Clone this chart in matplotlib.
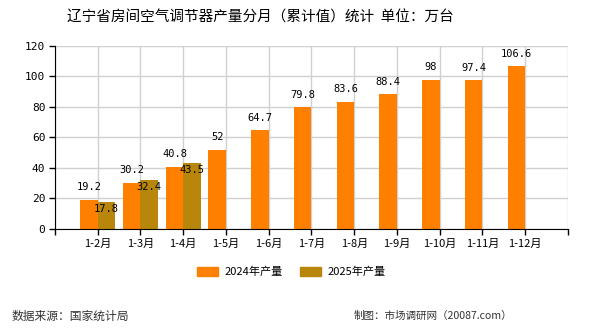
import matplotlib
matplotlib.use("Agg")
import matplotlib.pyplot as plt
from matplotlib.patches import Patch

plt.rcParams['font.family'] = ['Noto Sans CJK SC', 'DejaVu Sans']

months = ['1-2月', '1-3月', '1-4月', '1-5月', '1-6月', '1-7月',
          '1-8月', '1-9月', '1-10月', '1-11月', '1-12月']
prod_2024 = [19.2, 30.2, 40.8, 52, 64.7, 79.8, 83.6, 88.4, 98, 97.4, 106.6]
prod_2025 = [17.8, 32.4, 43.5]
labels_2024 = ['19.2', '30.2', '40.8', '52', '64.7', '79.8', '83.6', '88.4', '98', '97.4', '106.6']
labels_2025 = ['17.8', '32.4', '43.5']

c2024 = '#ff8000'
c2025 = '#b8860b'
w = 0.41

fig = plt.figure(figsize=(5.9, 3.3), dpi=100)
ax = fig.add_axes([0.0932, 0.3061, 0.8695, 0.5545])

x24 = [i + 1 - w / 2 for i in range(len(months))]
x25 = [i + 1 + w / 2 for i in range(len(prod_2025))]
ax.bar(x24, prod_2024, width=w, color=c2024, zorder=2)
ax.bar(x25, prod_2025, width=w, color=c2025, zorder=2)

mono = ['DejaVu Sans Mono', 'Noto Sans CJK SC']
for xx, v, t in zip(x24, prod_2024, labels_2024):
    ax.annotate(t, (xx, v), xytext=(0, 9), textcoords='offset points',
                ha='center', va='center', fontsize=7.5, family=mono, zorder=3)
for xx, v, t in zip(x25, prod_2025, labels_2025):
    ax.annotate(t, (xx, v), xytext=(0, -5), textcoords='offset points',
                ha='center', va='center', fontsize=7.5, family=mono, zorder=3)

ax.set_xlim(0, 12)
ax.set_ylim(0, 120)
ax.set_xticks(range(13))
ax.set_xticklabels([''] + months + [''], fontsize=8)
ax.set_yticks(range(0, 121, 20))
ax.set_yticklabels([str(v) for v in range(0, 121, 20)], fontsize=8, family=mono)
ax.tick_params(axis='both', length=4, width=1, color='black', pad=3)
ax.grid(True, color='#d0d0d0', linewidth=1, zorder=0)
ax.set_axisbelow(True)
ax.spines['top'].set_visible(False)
ax.spines['right'].set_visible(False)
ax.spines['left'].set_color('black')
ax.spines['bottom'].set_color('black')

fig.text(0.441, 0.947, '辽宁省房间空气调节器产量分月（累计值）统计  单位：万台',
         ha='center', va='center', fontsize=10.5)

handles = [Patch(color=c2024, label='2024年产量'), Patch(color=c2025, label='2025年产量')]
fig.legend(handles=handles, loc='center', bbox_to_anchor=(0.494, 0.176), ncol=2,
           frameon=False, fontsize=8, handlelength=1.9, handleheight=1.0,
           columnspacing=1.5, handletextpad=0.6)

fig.text(0.02, 0.042, '数据来源：国家统计局', ha='left', va='center', fontsize=8.5, color='#333333')
fig.text(0.868, 0.042, '制图：市场调研网（20087.com）', ha='right', va='center', fontsize=7.6, color='#333333')

fig.savefig('out.png', dpi=100)
